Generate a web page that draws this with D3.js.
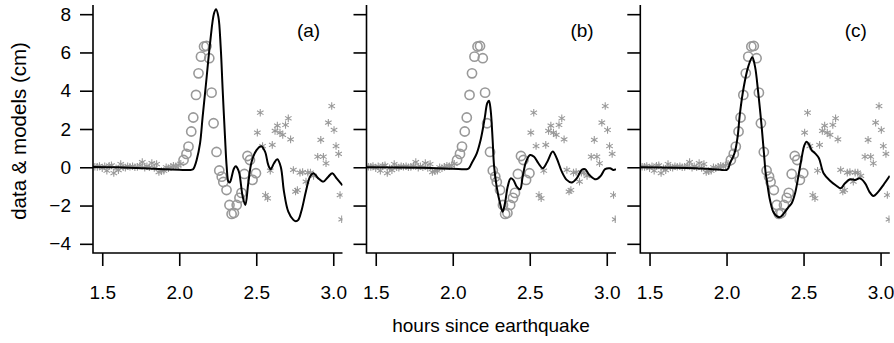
<!DOCTYPE html>
<html>
<head>
<meta charset="utf-8">
<script src="https://cdn.jsdelivr.net/npm/d3@7"></script>
<style>
  body { margin: 0; background: #fff; }
  svg text { font-family: "Liberation Sans", Arial, sans-serif; fill: #000; }
</style>
</head>
<body>
<div id="chart"></div>
<script>
// observed data inside the fitting window (circles), [hours, cm]
var circles = [
  [2.028, 0.38], [2.047, 0.70], [2.060, 1.08], [2.078, 1.87], [2.091, 2.60],
  [2.109, 3.78], [2.125, 4.91], [2.141, 5.78], [2.161, 6.31], [2.177, 6.34],
  [2.195, 5.70], [2.210, 3.90], [2.223, 2.30], [2.242, 0.80], [2.260, -0.17],
  [2.276, -0.49], [2.286, -0.77], [2.307, -1.19], [2.326, -1.97], [2.340, -2.44],
  [2.355, -2.39], [2.373, -1.97], [2.391, -1.60], [2.404, -1.34], [2.423, -0.35],
  [2.443, 0.59], [2.459, 0.38], [2.476, -0.66], [2.498, -0.31]
];

// observed data outside the window (stars)
var starsBefore = [
  [1.452, 0.03], [1.468, 0.02], [1.482, 0.07], [1.500, -0.05], [1.516, 0.05],
  [1.530, -0.18], [1.545, 0.08], [1.560, 0.10], [1.575, -0.30], [1.590, -0.05],
  [1.605, -0.15], [1.620, 0.17], [1.636, 0.00], [1.650, -0.02], [1.665, 0.05],
  [1.680, 0.03], [1.697, 0.05], [1.712, 0.00], [1.728, 0.02], [1.745, 0.08],
  [1.760, 0.27], [1.776, -0.02], [1.790, 0.05], [1.806, 0.00], [1.822, 0.22],
  [1.838, -0.03], [1.853, 0.17], [1.868, -0.25], [1.884, -0.20], [1.900, -0.18],
  [1.915, 0.00], [1.930, -0.05], [1.946, 0.02], [1.962, 0.08], [1.978, 0.05],
  [1.993, 0.10], [2.010, 0.18]
];
var starsAfter = [
  [2.507, 1.81], [2.526, 2.85], [2.541, 1.11], [2.560, -1.45], [2.574, -1.62],
  [2.591, -0.18], [2.604, 1.17], [2.622, 1.90], [2.637, 2.18], [2.654, 1.81],
  [2.672, 1.69], [2.690, 2.21], [2.708, 2.56], [2.723, 1.46], [2.741, -0.14],
  [2.755, -1.27], [2.767, -1.19], [2.784, -0.28], [2.801, -0.25], [2.823, -0.75],
  [2.835, -0.28], [2.852, -0.28], [2.872, -0.45], [2.899, 0.55], [2.919, 1.43],
  [2.936, 0.55], [2.953, 0.21], [2.968, 2.33], [2.990, 3.20], [3.005, 1.95],
  [3.018, 1.11], [3.035, 0.70], [3.044, -1.45], [3.055, -2.72]
];

// model curves, one per panel
var modelA = [
  [1.44, 0.02], [1.60, 0.00], [1.77, -0.05], [1.90, -0.10], [2.00, -0.13],
  [2.07, -0.14], [2.09, -0.10], [2.10, 0.05], [2.113, 0.38], [2.135, 1.25],
  [2.152, 2.65], [2.174, 4.39], [2.200, 6.48], [2.226, 8.05], [2.239, 8.26],
  [2.254, 7.87], [2.269, 6.30], [2.282, 4.04], [2.297, 1.60], [2.308, 0.03],
  [2.319, -0.75], [2.327, -0.80], [2.334, -0.70], [2.356, -0.05], [2.368, 0.05],
  [2.378, -0.05], [2.390, -0.31], [2.412, -1.54], [2.429, -1.97], [2.448, -0.84],
  [2.470, 0.29], [2.502, 0.90], [2.532, 1.10], [2.557, 0.82], [2.578, 0.12],
  [2.594, -0.10], [2.615, 0.21], [2.637, 0.42], [2.659, 0.03], [2.680, -1.27],
  [2.708, -2.32], [2.741, -2.75], [2.757, -2.82], [2.773, -2.75], [2.795, -2.23],
  [2.823, -1.24], [2.849, -0.49], [2.871, -0.31], [2.903, -0.58], [2.935, -0.75],
  [2.968, -0.49], [2.994, -0.31], [3.022, -0.58], [3.06, -0.95]
];
var modelB = [
  [1.44, 0.00], [1.80, -0.03], [2.00, -0.08], [2.091, -0.10], [2.105, -0.05],
  [2.123, 0.21], [2.156, 0.73], [2.181, 1.43], [2.198, 2.12], [2.209, 2.65],
  [2.224, 3.35], [2.235, 3.48], [2.246, 3.00], [2.259, 1.43], [2.268, 0.10],
  [2.285, -1.01], [2.307, -1.88], [2.324, -2.32], [2.339, -1.88], [2.357, -1.01],
  [2.376, -0.58], [2.393, -0.66], [2.415, -1.01], [2.437, -1.15], [2.454, -0.49],
  [2.476, 0.29], [2.502, 0.64], [2.528, 0.55], [2.556, 0.21], [2.584, -0.05],
  [2.614, 0.29], [2.649, 0.82], [2.675, 0.47], [2.708, -0.23], [2.740, -0.66],
  [2.772, -0.80], [2.805, -0.58], [2.837, -0.14], [2.859, -0.10], [2.887, -0.40],
  [2.930, -0.63], [2.961, -0.45], [2.989, -0.10], [3.021, -0.05], [3.043, -0.14],
  [3.06, -0.10]
];
var modelC = [
  [1.44, 0.00], [1.80, -0.05], [1.95, -0.12], [2.000, -0.14], [2.012, -0.05],
  [2.022, 0.21], [2.040, 0.50], [2.055, 0.82], [2.072, 1.60], [2.087, 2.82],
  [2.112, 4.21], [2.141, 5.26], [2.167, 5.75], [2.185, 5.26], [2.206, 3.87],
  [2.228, 2.12], [2.243, 0.73], [2.254, -0.31], [2.261, -0.66], [2.282, -1.71],
  [2.308, -2.40], [2.343, -2.61], [2.373, -2.40], [2.401, -2.09], [2.423, -1.88],
  [2.445, -1.36], [2.466, -0.49], [2.490, 0.60], [2.505, 1.15], [2.520, 1.34],
  [2.535, 1.20], [2.552, 0.90], [2.575, 0.73], [2.600, 0.47], [2.630, -0.31],
  [2.672, -0.70], [2.711, -0.95], [2.741, -1.10], [2.769, -0.84], [2.802, -0.63],
  [2.834, -0.66], [2.867, -0.58], [2.900, -0.84], [2.927, -1.27], [2.953, -1.50],
  [2.986, -1.27], [3.018, -0.93], [3.06, -0.45]
];

var models = [modelA, modelB, modelC];
var panelLabels = ["(a)", "(b)", "(c)"];
var xTicks = [1.5, 2.0, 2.5, 3.0];
var yTicks = [-4, -2, 0, 2, 4, 6, 8];

var width = 894, height = 343;
var panelLeft = [93, 366.5, 640.3];
var panelW = 249.5;
var plotTop = 5, plotBottom = 253;
var grey = "#999999";

var svg = d3.select("#chart").append("svg")
    .attr("width", width)
    .attr("height", height);

var y = d3.scaleLinear().domain([-4.48, 8.48]).range([plotBottom, plotTop]);

panelLeft.forEach(function(left, i) {
    var x = d3.scaleLinear().domain([1.44, 3.06]).range([left, left + panelW]);
    var g = svg.append("g");

    g.append("clipPath").attr("id", "clip" + i)
      .append("rect")
        .attr("x", left).attr("y", plotTop)
        .attr("width", panelW).attr("height", plotBottom - plotTop);

    var plot = g.append("g").attr("clip-path", "url(#clip" + i + ")");

    // stars
    var star = d3.symbol().type(d3.symbolAsterisk).size(40);
    plot.selectAll(".star")
        .data(starsBefore.concat(starsAfter))
        .enter().append("path")
        .attr("d", star)
        .attr("transform", d => `translate(${x(d[0])},${y(d[1])})`)
        .attr("fill", "none")
        .attr("stroke", grey)
        .attr("stroke-width", 1.1);

    // circles
    plot.selectAll(".circ")
        .data(circles)
        .enter().append("circle")
        .attr("cx", d => x(d[0]))
        .attr("cy", d => y(d[1]))
        .attr("r", 4.6)
        .attr("fill", "none")
        .attr("stroke", grey)
        .attr("stroke-width", 1.6);

    // model line
    var line = d3.line()
        .x(d => x(d[0]))
        .y(d => y(d[1]))
        .curve(d3.curveCatmullRom.alpha(0.5));

    plot.append("path")
        .datum(models[i])
        .attr("d", line)
        .attr("fill", "none")
        .attr("stroke", "#000")
        .attr("stroke-width", 2);

    // L-shaped box
    g.append("path")
        .attr("d", `M${left},${plotTop}V${plotBottom}H${left + panelW}`)
        .attr("fill", "none")
        .attr("stroke", "#000")
        .attr("stroke-width", 1.6);

    // x axis ticks + labels
    var xAxis = d3.axisBottom(x).tickValues(xTicks).tickSize(13).tickPadding(20)
        .tickFormat(d3.format(".1f"));
    var xg = g.append("g").attr("transform", `translate(0,${plotBottom})`).call(xAxis);
    xg.select(".domain").remove();
    xg.selectAll("line").attr("stroke-width", 1.6);
    xg.selectAll("text").style("font-size", "19px").attr("font-family", null);

    // y axis ticks, labels only on first panel
    var yAxis = d3.axisLeft(y).tickValues(yTicks).tickSize(13).tickPadding(9)
        .tickFormat(i === 0 ? (d => d < 0 ? "\u2212" + Math.abs(d) : String(d)) : "");
    var yg = g.append("g").attr("transform", `translate(${left},0)`).call(yAxis);
    yg.select(".domain").remove();
    yg.selectAll("line").attr("stroke-width", 1.6);
    yg.selectAll("text").style("font-size", "19px").attr("font-family", null);

    g.append("text")
        .attr("x", left + panelW - 34)
        .attr("y", 30)
        .attr("text-anchor", "middle")
        .attr("dominant-baseline", "central")
        .style("font-size", "19px")
        .text(panelLabels[i]);
});

svg.append("text")
    .attr("x", 491)
    .attr("y", 325)
    .attr("text-anchor", "middle")
    .attr("dominant-baseline", "central")
    .style("font-size", "19px")
    .text("hours since earthquake");

svg.append("text")
    .attr("transform", "translate(18,131) rotate(-90)")
    .attr("text-anchor", "middle")
    .attr("dominant-baseline", "central")
    .style("font-size", "20.5px")
    .text("data & models (cm)");
</script>
</body>
</html>
